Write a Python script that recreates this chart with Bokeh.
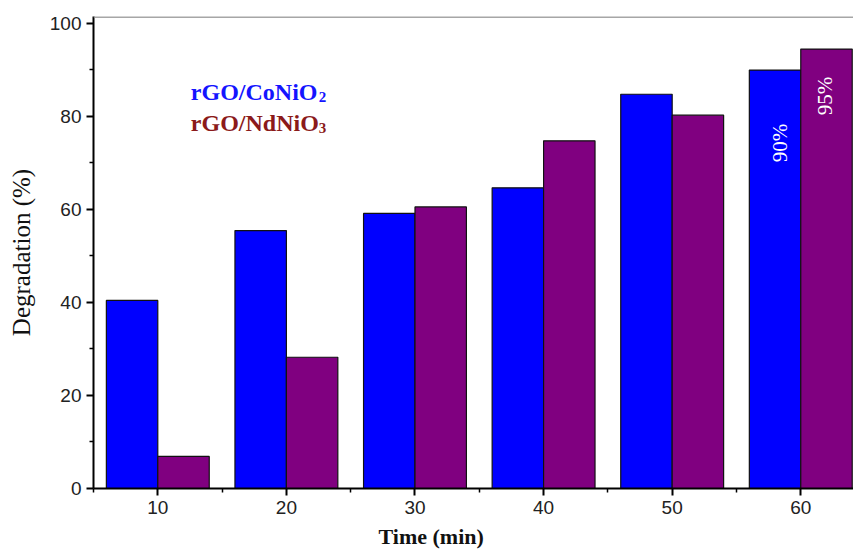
import math
from bokeh.plotting import figure
from bokeh.models import ColumnDataSource, FixedTicker, Label, Span, Range1d, Title
from bokeh.core.properties import value
from bokeh.transform import dodge
from bokeh.embed import file_html
from bokeh.resources import INLINE

# ---- data ----
times = [10, 20, 30, 40, 50, 60]
conio2 = [40.4, 55.4, 59.1, 64.6, 84.7, 89.9]
ndnio3 = [6.9, 28.2, 60.5, 74.7, 80.2, 94.4]
x_ticks = [10, 20, 30, 40, 50, 60]
x_minor = [5, 15, 25, 35, 45, 55, 65]
y_ticks = [0, 20, 40, 60, 80, 100]
series_names = ["rGO/CoNiO", "rGO/NdNiO"]
series_subs = ["2", "3"]
pct_labels = ["90%", "95%"]
x_title = "Time (min)"
y_title = "Degradation (%)"

src = ColumnDataSource(dict(t=times, a=conio2, b=ndnio3))

p = figure(width=853, height=556, output_backend="svg", toolbar_location=None,
           x_range=Range1d(5, 64.1), y_range=Range1d(0, 101.4),
           min_border_left=93, min_border_right=0, min_border_top=16, min_border_bottom=68)
p.outline_line_color = None
p.xgrid.visible = False
p.ygrid.visible = False
p.background_fill_color = "white"

p.vbar(x=dodge('t', -2, range=p.x_range), top='a', width=4, source=src,
       fill_color="#0000FF", line_color="#111111", line_width=1.2)
p.vbar(x=dodge('t', 2, range=p.x_range), top='b', width=4, source=src,
       fill_color="#800080", line_color="#111111", line_width=1.2)

# axes
for ax in (p.xaxis[0], p.yaxis[0]):
    ax.axis_line_width = 2
    ax.axis_line_color = "black"
    ax.major_tick_line_width = 2
    ax.minor_tick_line_width = 1.5
    ax.major_tick_in = 0
    ax.major_tick_out = 7
    ax.minor_tick_in = 0
    ax.minor_tick_out = 4
    ax.major_label_text_font = "Liberation Sans"
    ax.major_label_text_font_size = "19px"
    ax.major_label_text_color = "#222222"
    ax.major_label_standoff = 5

p.xaxis.ticker = FixedTicker(ticks=x_ticks, minor_ticks=x_minor)
p.yaxis.ticker = FixedTicker(ticks=y_ticks, minor_ticks=[10, 30, 50, 70, 90])

p.yaxis.axis_label = y_title
p.yaxis.axis_label_text_font = "Liberation Serif"
p.yaxis.axis_label_text_font_style = "normal"
p.yaxis.axis_label_text_font_size = "25px"
p.yaxis.axis_label_text_color = "#111111"
p.yaxis.axis_label_standoff = 12

# x-axis title below the axis (off-centre as in the original)
p.add_layout(Title(text=x_title, align="left", offset=285, standoff=10,
                   vertical_align="bottom", text_line_height=0.8,
                   text_font="Liberation Serif", text_font_style="bold",
                   text_font_size="22px", text_color="#111111"), "below")

# top border line
p.add_layout(Span(location=101.3, dimension="width", line_color="#888888", line_width=1.5))

# legend text
leg_colors = ["#1414FF", "#8B1A1A"]
leg_y = [85.2, 78.6]
for name, sub, col, yy in zip(series_names, series_subs, leg_colors, leg_y):
    p.add_layout(Label(x=12.57, y=yy, text=name, text_font="Liberation Serif",
                       text_font_style="bold", text_font_size="24px", text_color=col,
                       text_baseline="alphabetic", text_align="left"))
    p.add_layout(Label(x=12.57, y=yy, x_offset=128, y_offset=-5, text=sub,
                       text_font="Liberation Serif", text_font_style="bold",
                       text_font_size="15px", text_color=col,
                       text_baseline="alphabetic", text_align="left"))

# percentage labels inside last bars
pct_src = ColumnDataSource(dict(x=[times[-1] - 2 + 0.35, times[-1] + 2 - 0.1],
                                y=[74.2, 84.3], txt=pct_labels))
p.text(x='x', y='y', text='txt', source=pct_src, angle=math.pi / 2,
       text_font=value("Liberation Serif"), text_font_size="21px", text_color="white",
       text_align="center", text_baseline="middle")

open("out.html", "w").write(file_html(p, INLINE))
